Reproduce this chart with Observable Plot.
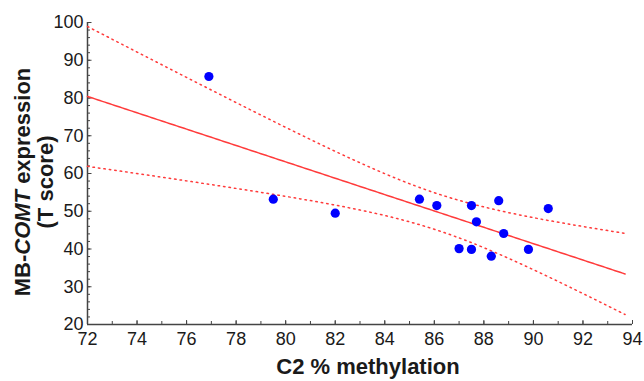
<!DOCTYPE html>
<html><head><meta charset="utf-8">
<script src="https://cdn.jsdelivr.net/npm/d3@7"></script>
<script src="https://cdn.jsdelivr.net/npm/@observablehq/plot@0.6"></script>
<style>body{margin:0;background:#fff}</style>
</head><body><div id="chart"></div>
<script>
// Data
const methylation = [76.9, 79.5, 82.0, 85.4, 86.1, 87.5, 88.6, 90.6, 87.7, 88.8, 87.0, 87.5, 88.3, 89.8];
const tScore      = [85.7, 53.2, 49.5, 53.2, 51.5, 51.5, 52.8, 50.7, 47.2, 44.1, 40.1, 39.9, 38.1, 39.9];
const xTicks = [72, 74, 76, 78, 80, 82, 84, 86, 88, 90, 92, 94];
const yTicks = [20, 30, 40, 50, 60, 70, 80, 90, 100];
const fitExtent = [72, 93.7];
const xLabel = "C2 % methylation";

const points = methylation.map((x, i) => ({x, y: tScore[i]}));

// Linear regression with 95% confidence band, derived from the points
const n = points.length;
const mx = d3.mean(methylation), my = d3.mean(tScore);
const sxx = d3.sum(methylation, x => (x - mx) ** 2);
const sxy = d3.sum(points, p => (p.x - mx) * (p.y - my));
const slope = sxy / sxx, intercept = my - slope * mx;
const sse = d3.sum(points, p => (p.y - (intercept + slope * p.x)) ** 2);
const s = Math.sqrt(sse / (n - 2));
const t = 2.179; // t(0.975, 12)
const band = d3.range(fitExtent[0], fitExtent[1] + 1e-9, 0.1).map(x => {
  const f = intercept + slope * x;
  const h = t * s * Math.sqrt(1 / n + (x - mx) ** 2 / sxx);
  return {x, fit: f, upper: f + h, lower: f - h};
});

const red = "#ff3b3b";
const chart = Plot.plot({
  width: 644, height: 381,
  marginLeft: 87, marginRight: 12, marginTop: 22, marginBottom: 57,
  x: {domain: [72, 94]},
  y: {domain: [20, 100]},
  style: {fontFamily: "Arial, 'Liberation Sans', sans-serif", fontSize: "18px", color: "#1a1a1a", background: "#fff"},
  marks: [
    Plot.axisX({ticks: d3.range(72, 95, 1), tickSize: -3, tickFormat: () => "", label: null, stroke: "#444"}),
    Plot.axisX({ticks: xTicks, tickSize: -4, tickPadding: 12, label: null, stroke: "#444"}),
    Plot.axisY({ticks: d3.range(20, 101, 2), tickSize: -3, tickFormat: () => "", label: null, stroke: "#444"}),
    Plot.axisY({ticks: yTicks, tickSize: -4.5, tickPadding: 8.5, label: null, stroke: "#444"}),
    Plot.ruleX([72], {stroke: "#444", strokeWidth: 1.5}),
    Plot.ruleY([20], {stroke: "#444", strokeWidth: 1.5}),
    Plot.line(band, {x: "x", y: "upper", stroke: red, strokeWidth: 1.5, strokeDasharray: "1.5,4"}),
    Plot.line(band, {x: "x", y: "lower", stroke: red, strokeWidth: 1.5, strokeDasharray: "1.5,4"}),
    Plot.line(band, {x: "x", y: "fit", stroke: red, strokeWidth: 1.5}),
    Plot.dot(points, {x: "x", y: "y", r: 4.6, fill: "#0000ff", stroke: "none"})
  ]
});
document.getElementById("chart").append(chart);

const svg = d3.select(chart);
svg.append("text")
  .attr("x", 368).attr("y", 374)
  .attr("text-anchor", "middle")
  .attr("font-weight", "bold").attr("font-size", 22).attr("fill", "#1a1a1a")
  .text(xLabel);
const yl = svg.append("text")
  .attr("transform", "translate(30,182) rotate(-90)")
  .attr("text-anchor", "middle")
  .attr("font-weight", "bold").attr("font-size", 22).attr("fill", "#1a1a1a");
yl.append("tspan").text("MB-");
yl.append("tspan").attr("font-style", "italic").text("COMT");
yl.append("tspan").text(" expression");
svg.append("text")
  .attr("transform", "translate(53,182) rotate(-90)")
  .attr("text-anchor", "middle")
  .attr("font-weight", "bold").attr("font-size", 22).attr("fill", "#1a1a1a")
  .text("(T score)");
</script>
</body></html>
